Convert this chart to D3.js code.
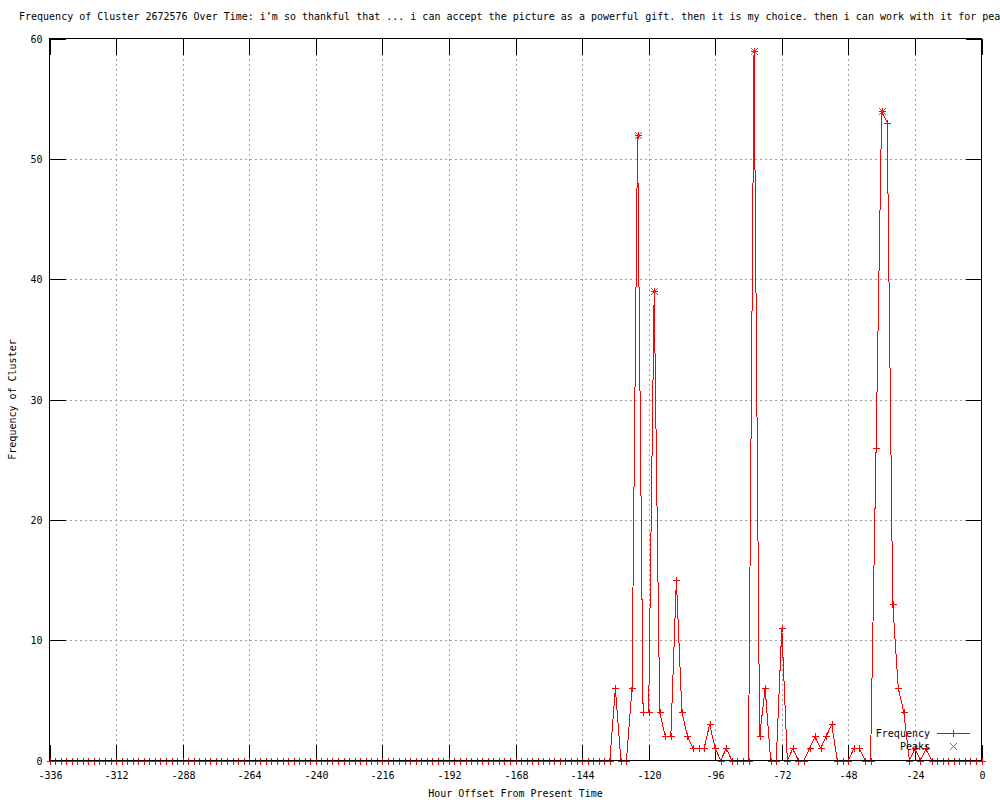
<!DOCTYPE html>
<html>
<head>
<meta charset="utf-8">
<script src="https://cdn.jsdelivr.net/npm/d3@7"></script>
<style>
	body { margin: 0; background: #fff; }
	svg { display: block; }
	text { font-family: "DejaVu Sans Mono", monospace; font-size: 10px; fill: #000; }
</style>
</head>
<body>
<script>
// frequency per 2-hour bin, hour offset -336 .. 0
const frequency = [
	0, 0, 0, 0, 0, 0, 0, 0, 0, 0, 0, 0, 0, 0, 0, 0, 0,
	0, 0, 0, 0, 0, 0, 0, 0, 0, 0, 0, 0, 0, 0, 0, 0, 0,
	0, 0, 0, 0, 0, 0, 0, 0, 0, 0, 0, 0, 0, 0, 0, 0, 0,
	0, 0, 0, 0, 0, 0, 0, 0, 0, 0, 0, 0, 0, 0, 0, 0, 0,
	0, 0, 0, 0, 0, 0, 0, 0, 0, 0, 0, 0, 0, 0, 0, 0, 0,
	0, 0, 0, 0, 0, 0, 0, 0, 0, 0, 0, 0, 0, 0, 0, 0, 0,
	// -132 .. -114
	6, 0, 0, 6, 52, 4, 4, 39, 4, 2,
	// -112 .. -94
	2, 15, 4, 2, 1, 1, 1, 3, 1, 0,
	// -92 .. -74
	1, 0, 0, 0, 0, 59, 2, 6, 0, 0,
	// -72 .. -54
	11, 0, 1, 0, 0, 1, 2, 1, 2, 3,
	// -52 .. -34
	0, 0, 0, 1, 1, 0, 0, 26, 54, 53,
	// -32 .. -18
	13, 6, 4, 0, 1, 0, 1, 0,
	// -16 .. 0
	0, 0, 0, 0, 0, 0, 0, 0, 0
];
const hours = d3.range(-336, 1, 2);

const peakHours = [-124, -118, -82, -36];
const peakValues = [52, 39, 59, 54];

const xTicks = [-336, -312, -288, -264, -240, -216, -192, -168, -144, -120, -96, -72, -48, -24, 0];
const yTicks = [0, 10, 20, 30, 40, 50, 60];

const title = 'Frequency of Cluster 2672576 Over Time: i\u2019m so thankful that ... i can accept the picture as a powerful gift. then it is my choice. then i can work with it for peace';

document.addEventListener('DOMContentLoaded', () => {
	let width = 1000;
	let height = 800;
	let left = 49.5, right = 981.5, top = 38.5, bottom = 760.5;
	let tick = 16;

	let svg = d3.select('body')
		.append('svg:svg')
		.attr('width', width)
		.attr('height', height);

	let x = d3.scaleLinear().domain([-336, 0]).range([left, right]);
	let y = d3.scaleLinear().domain([0, 60]).range([bottom, top]);
	let px = v => Math.round(x(v)) + 0.5;
	let py = v => Math.round(y(v)) + 0.5;

	let points = hours.map((h, i) => ({ h: h, v: frequency[i] }));
	let peaks = peakHours.map((h, i) => ({ h: h, v: peakValues[i] }));

	// grid
	let grid = svg.append('g')
		.style('stroke', '#a0a0a0')
		.style('stroke-dasharray', '2,3')
		.style('shape-rendering', 'crispEdges');
	grid.selectAll('.gx')
		.data(xTicks.slice(1, -1))
		.enter().append('line')
		.attr('x1', px)
		.attr('x2', px)
		.attr('y1', top)
		.attr('y2', bottom);
	grid.selectAll('.gy')
		.data(yTicks.slice(1, -1))
		.enter().append('line')
		.attr('y1', py)
		.attr('y2', py)
		.attr('x1', left)
		.attr('x2', right);

	// axes, ticks pointing inward on all four sides
	let fmt = d => String(d);
	let axisB = svg.append('g')
		.attr('transform', `translate(0,${bottom})`)
		.call(d3.axisBottom(x).tickValues(xTicks).tickSize(-tick).tickPadding(11).tickFormat(fmt));
	let axisT = svg.append('g')
		.attr('transform', `translate(0,${top})`)
		.call(d3.axisTop(x).tickValues(xTicks).tickSize(-tick).tickFormat(''));
	let axisL = svg.append('g')
		.attr('transform', `translate(${left},0)`)
		.call(d3.axisLeft(y).tickValues(yTicks).tickSize(-tick).tickPadding(7).tickFormat(fmt));
	let axisR = svg.append('g')
		.attr('transform', `translate(${right},0)`)
		.call(d3.axisRight(y).tickValues(yTicks).tickSize(-tick).tickFormat(''));
	[axisB, axisT, axisL, axisR].forEach(a => {
		a.select('.domain').remove();
		a.attr('font-family', null).attr('font-size', null);
		a.selectAll('line').style('stroke', '#000').style('shape-rendering', 'crispEdges');
	});
	// snap ticks to the pixel grid
	axisB.selectAll('.tick').attr('transform', d => `translate(${px(d)},0)`);
	axisT.selectAll('.tick').attr('transform', d => `translate(${px(d)},0)`);
	axisL.selectAll('.tick').attr('transform', d => `translate(0,${py(d)})`);
	axisR.selectAll('.tick').attr('transform', d => `translate(0,${py(d)})`);

	// frequency line
	let line = d3.line()
		.x(d => x(d.h))
		.y(d => y(d.v));
	svg.append('path')
		.datum(points)
		.attr('d', line)
		.attr('fill', 'none')
		.attr('stroke', '#ff0000')
		.attr('stroke-width', 1)
		.style('shape-rendering', 'crispEdges');

	let plus = (cx, cy, s) => `M${cx - s},${cy}H${cx + s}M${cx},${cy - s}V${cy + s}`;
	let cross = (cx, cy, s) => `M${cx - s},${cy - s}L${cx + s},${cy + s}M${cx - s},${cy + s}L${cx + s},${cy - s}`;

	svg.append('path')
		.attr('d', points.map(d => plus(px(d.h), py(d.v), 3.5)).join(''))
		.attr('fill', 'none')
		.attr('stroke', '#ff0000')
		.style('shape-rendering', 'crispEdges');

	svg.append('path')
		.attr('d', peaks.map(d => cross(px(d.h), py(d.v), 3.5)).join(''))
		.attr('fill', 'none')
		.attr('stroke', '#00c000')
		.style('shape-rendering', 'crispEdges');

	// border
	svg.append('rect')
		.attr('x', left)
		.attr('y', top)
		.attr('width', right - left)
		.attr('height', bottom - top)
		.attr('fill', 'none')
		.attr('stroke', '#000')
		.style('shape-rendering', 'crispEdges');

	// legend
	let legend = svg.append('g');
	legend.append('text')
		.attr('x', 930)
		.attr('y', 737)
		.attr('text-anchor', 'end')
		.text('Frequency');
	legend.append('path')
		.attr('d', 'M937,733.5H970' + plus(953.5, 733.5, 3.5))
		.attr('fill', 'none')
		.attr('stroke', '#ff0000')
		.style('shape-rendering', 'crispEdges');
	legend.append('text')
		.attr('x', 930)
		.attr('y', 750)
		.attr('text-anchor', 'end')
		.text('Peaks');
	legend.append('path')
		.attr('d', cross(953.5, 746.5, 3.5))
		.attr('fill', 'none')
		.attr('stroke', '#00c000')
		.style('shape-rendering', 'crispEdges');

	// titles
	svg.append('text')
		.attr('x', 19)
		.attr('y', 20)
		.text(title);
	svg.append('text')
		.attr('x', (left + right) / 2)
		.attr('y', 797)
		.attr('text-anchor', 'middle')
		.text('Hour Offset From Present Time');
	svg.append('text')
		.attr('transform', `translate(16,${(top + bottom) / 2}) rotate(-90)`)
		.attr('text-anchor', 'middle')
		.text('Frequency of Cluster');
});
</script>
</body>
</html>
